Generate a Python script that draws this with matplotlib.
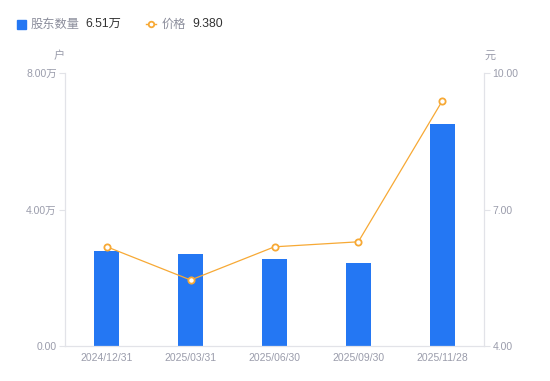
import matplotlib
matplotlib.use("Agg")
import matplotlib.pyplot as plt
import numpy as np
from matplotlib.patches import Rectangle
from matplotlib.lines import Line2D

plt.rcParams['font.family'] = ['Liberation Sans', 'Noto Sans CJK SC', 'DejaVu Sans']

dates = ['2024/12/31', '2025/03/31', '2025/06/30', '2025/09/30', '2025/11/28']
holders = [2.78, 2.70, 2.54, 2.42, 6.51]   # 万户
prices = [6.18, 5.45, 6.18, 6.29, 9.38]    # 元
left_ticks = [0, 4, 8]
left_labels = ['0.00', '4.00万', '8.00万']
right_ticks = [4, 7, 10]
right_labels = ['4.00', '7.00', '10.00']

bar_color = '#2477f3'
line_color = '#f7a935'
tick_color = '#9a9cab'
axis_color = '#e2e3e8'
cjk = ['Noto Sans CJK SC', 'DejaVu Sans']

fig = plt.figure(figsize=(5.5, 3.81), dpi=100)
ax = fig.add_axes([65 / 550, 35 / 381, 419 / 550, 273 / 381])
ax2 = ax.twinx()

x = np.arange(len(dates))
ax.bar(x, holders, width=0.3, color=bar_color, zorder=2)
ax.set_xlim(-0.5, len(dates) - 0.5)
ax.set_ylim(0, 8)
ax.set_yticks(left_ticks)
ax.set_yticklabels(left_labels)
ax.set_xticks(x)
ax.set_xticklabels(dates)

ax2.plot(x, prices, color=line_color, lw=0.9, marker='o', ms=4.5,
         mfc='white', mec=line_color, mew=1.3, zorder=3)
ax2.set_ylim(4, 10)
ax2.set_yticks(right_ticks)
ax2.set_yticklabels(right_labels)

for a in (ax, ax2):
    for s in a.spines.values():
        s.set_visible(False)
ax.spines['left'].set_visible(True)
ax.spines['bottom'].set_visible(True)
ax2.spines['right'].set_visible(True)
for s in (ax.spines['left'], ax.spines['bottom'], ax2.spines['right']):
    s.set_color(axis_color)
    s.set_linewidth(0.9)

ax.tick_params(axis='y', length=4, width=0.8, color=axis_color, labelcolor=tick_color,
               labelsize=7.5, pad=2)
ax.tick_params(axis='x', length=0, labelcolor=tick_color, labelsize=7.5, pad=5)
ax2.tick_params(axis='y', length=4, width=0.8, color=axis_color, labelcolor=tick_color,
                labelsize=7.5, pad=2)

# unit labels
fig.text(59 / 550, 1 - 56 / 381, '户', color=tick_color, fontsize=8, ha='center', va='center',
         family=cjk)
fig.text(490 / 550, 1 - 56 / 381, '元', color=tick_color, fontsize=8, ha='center', va='center',
         family=cjk)

# legend
ly = 1 - 24 / 381
fig.patches.append(Rectangle((17 / 550, ly - 4.5 / 381), 9 / 550, 9 / 381,
                             transform=fig.transFigure, color=bar_color))
fig.text(31 / 550, ly, '股东数量', color='#8c8e9c', fontsize=8.8, va='center', family=cjk)
fig.text(85 / 550, ly, '%.2f万' % holders[-1], color='#333333', fontsize=8.8, va='center')
fig.lines.append(Line2D([146 / 550, 156 / 550], [ly, ly], transform=fig.transFigure,
                        color=line_color, lw=1))
fig.lines.append(Line2D([151 / 550], [ly], transform=fig.transFigure, color=line_color,
                        marker='o', ms=4, mfc='white', mec=line_color, mew=1.3))
fig.text(162 / 550, ly, '价格', color='#8c8e9c', fontsize=8.8, va='center', family=cjk)
fig.text(192 / 550, ly, '%.3f' % prices[-1], color='#333333', fontsize=8.8, va='center')

fig.savefig('out.png', dpi=100)
